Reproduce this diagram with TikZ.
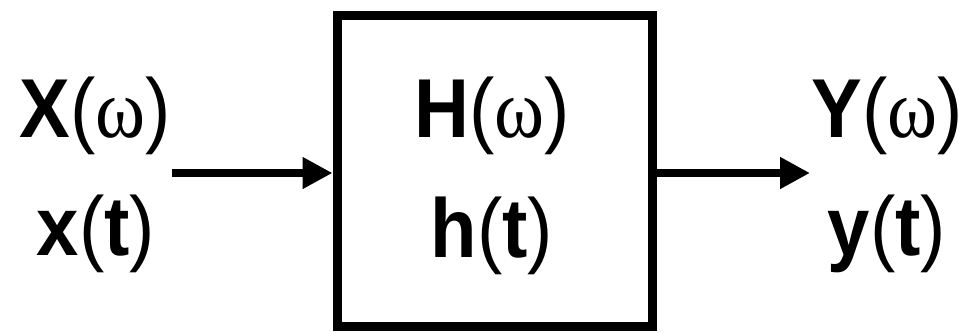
\documentclass[tikz,border=0pt]{standalone}
\usepackage{fontspec}
\setmainfont{Liberation Sans}
\newfontfamily\omegafont{Liberation Serif}
\usetikzlibrary{arrows.meta}
\newcommand{\om}{{\omegafont\mdseries ω}}
\newcommand{\lp}{{\mdseries(}}
\newcommand{\rp}{{\mdseries)}}
\newcommand{\tall}[1]{\scalebox{1}[1.1]{#1}}
\tikzset{
  lbl/.style={inner sep=0pt, anchor=base, font=\fontsize{76}{80}\selectfont\bfseries},
  sysbox/.style={draw=black, line width=9pt, minimum width=315pt, minimum height=311pt, inner sep=0pt},
  conn/.style={line width=8pt, -{Triangle[length=30pt,width=30pt]}}
}
\begin{document}
\begin{tikzpicture}[x=1pt,y=-1pt]
\useasboundingbox (0,0) rectangle (968,333);
\node[sysbox] (box) at (494.5,170.5) {};
\node[lbl] (Xw) at (95,137) {\tall{X\lp\om\rp}};
\node[lbl] (xt) at (96,255) {\tall{x\lp t\rp}};
\node[lbl] (Hw) at (492,137) {\tall{H\lp\om\rp}};
\node[lbl] (ht) at (492,257) {\tall{h\lp t\rp}};
\node[lbl] (Yw) at (887,137) {\tall{Y\lp\om\rp}};
\node[lbl] (yt) at (887,255) {\tall{y\lp t\rp}};
\coordinate (in) at (172,173);
\coordinate (out) at (810,173);
\draw[conn] (in) -- (in -| box.west);
\draw[conn] (box.east |- out) -- (out);
\end{tikzpicture}
\end{document}
